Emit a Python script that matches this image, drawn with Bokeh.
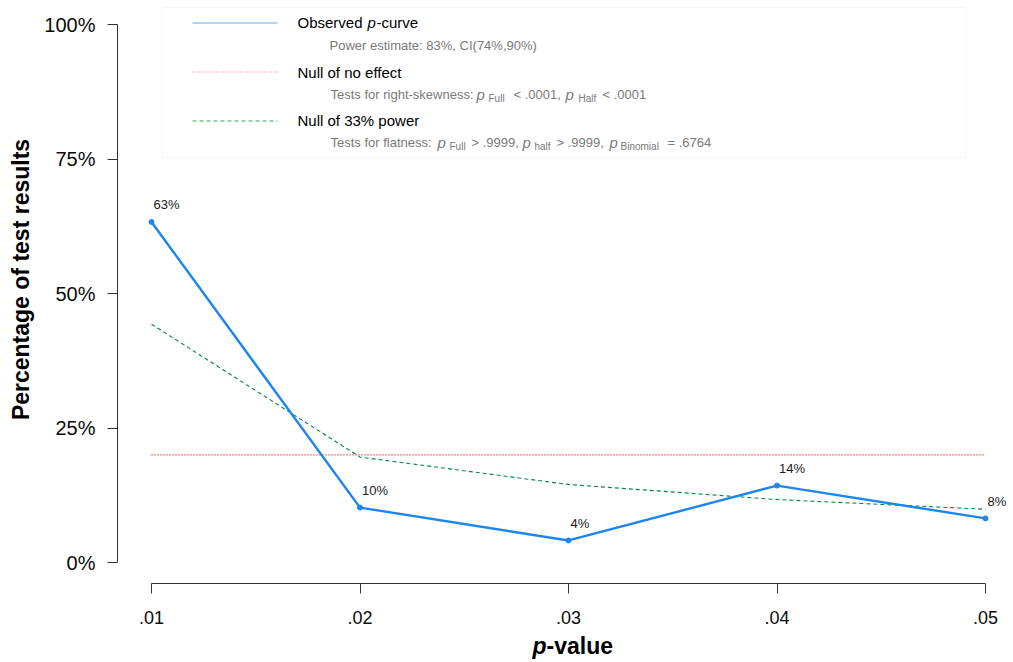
from bokeh.plotting import figure
from bokeh.models import (Range1d, FixedTicker, CustomJSTickFormatter, Label,
                          LabelSet, BoxAnnotation, ColumnDataSource)
from bokeh.core.properties import value
from bokeh.embed import file_html
from bokeh.resources import INLINE
import math

# ---------------- data ----------------
p_values = [0.01, 0.02, 0.03, 0.04, 0.05]
observed = [63.3, 10.2, 4.1, 14.3, 8.2]          # observed p-curve (%)
null_33_power = [44.3, 19.6, 14.5, 11.7, 9.9]    # null of 33% power (%)
null_no_effect = [20, 20, 20, 20, 20]            # null of no effect (%)
x_ticks = [0.01, 0.02, 0.03, 0.04, 0.05]
y_ticks = [0, 25, 50, 75, 100]
obs_labels = [f"{round(v)}%" for v in observed]

# ---------------- layout helpers (canvas pixels -> data) ----------------
PX_X0, PX_PER_X = 151.0, 20850.0   # canvas x of p=.01, pixels per unit p
PX_Y0, PX_PER_Y = 562.0, 5.38      # canvas y of 0%, pixels per percent


def dx(px):
    return 0.01 + (px - PX_X0) / PX_PER_X


def dy(py):
    return (PX_Y0 - py) / PX_PER_Y


FONT = "Liberation Sans"
BLUE = "#1C86EE"
RED = "#FF0000"
GREEN = "#008B45"
GREY = "#7a7a7a"
AXIS = "#333333"

W, H = 1012, 660
AXIS_X_PX, AXIS_Y_PX = 117, 583      # where the y axis / x axis lines sit

# The frame spans the whole canvas; the axes are pinned inside it.
p = figure(width=W, height=H, output_backend="svg", toolbar_location=None,
           x_range=Range1d(dx(0), dx(W)), y_range=Range1d(dy(H), dy(0)),
           min_border_left=0, min_border_right=0, min_border_top=0,
           min_border_bottom=0)
p.outline_line_color = None
p.grid.visible = False
p.background_fill_color = "white"

for ax in (p.xaxis[0], p.yaxis[0]):
    ax.axis_line_color = AXIS
    ax.major_tick_line_color = AXIS
    ax.minor_tick_line_color = None
    ax.major_tick_out = 10
    ax.major_tick_in = 0
    ax.major_label_text_font = FONT
    ax.major_label_text_color = "#0a0a0a"

p.xaxis.fixed_location = dy(AXIS_Y_PX)
p.yaxis.fixed_location = dx(AXIS_X_PX)
p.xaxis.bounds = (0.01, 0.05)
p.yaxis.bounds = (0, 100)
p.xaxis.ticker = FixedTicker(ticks=x_ticks)
p.yaxis.ticker = FixedTicker(ticks=y_ticks)
p.xaxis.formatter = CustomJSTickFormatter(code="return tick.toFixed(2).replace(/^0/, '')")
p.yaxis.formatter = CustomJSTickFormatter(code="return Math.round(tick) + '%'")
p.xaxis.major_label_text_font_size = "18px"
p.yaxis.major_label_text_font_size = "20px"
p.xaxis.major_label_standoff = 17
p.yaxis.major_label_standoff = 12

# ---------------- series ----------------
p.line(p_values, null_no_effect, line_color=RED, line_width=1.1, line_dash="1 2")
p.line(p_values, null_33_power, line_color=GREEN, line_width=1.1, line_dash="4 3")
p.line(p_values, observed, line_color=BLUE, line_width=2.4)
p.scatter(p_values, observed, size=5, color=BLUE)

src = ColumnDataSource(dict(x=p_values, y=observed, t=obs_labels))
p.add_layout(LabelSet(x="x", y="y", text="t", source=src, x_offset=2, y_offset=17,
                      text_font=value(FONT), text_font_size="13px", text_color="#1a1a1a",
                      text_align="left", text_baseline="middle"))

# ---------------- legend ----------------
p.add_layout(BoxAnnotation(left=dx(162), right=dx(965), top=dy(7), bottom=dy(157),
                           fill_alpha=0, line_color="#dedede", line_width=1))

p.line([dx(192), dx(277)], [dy(22.5), dy(22.5)], line_color=BLUE, line_width=1.2, line_alpha=0.7)
p.line([dx(192), dx(277)], [dy(71.5), dy(71.5)], line_color="#ff4d4d", line_width=1.2, line_dash="1 2", line_alpha=0.9)
p.line([dx(192), dx(277)], [dy(120.5), dy(120.5)], line_color=GREEN, line_width=1, line_dash="4 3", line_alpha=0.8)

# (text, canvas x, canvas y, size, style, color)
legend_texts = [
    ("Observed", 297, 22, "15px", "normal", "black"),
    ("p", 367, 22, "15px", "italic", "black"),
    ("-curve", 376, 22, "15px", "normal", "black"),
    ("Power estimate: 83%, CI(74%,90%)", 329, 45, "13px", "normal", GREY),
    ("Null of no effect", 297, 72, "15px", "normal", "black"),
    ("Tests for right-skewness:", 330, 94, "13px", "normal", GREY),
    ("p", 476, 94, "15px", "italic", GREY),
    ("Full", 488, 98, "10px", "normal", GREY),
    ("< .0001,", 513, 94, "13px", "normal", GREY),
    ("p", 565, 94, "15px", "italic", GREY),
    ("Half", 578, 98, "10px", "normal", GREY),
    ("< .0001", 602, 94, "13px", "normal", GREY),
    ("Null of 33% power", 297, 120, "15px", "normal", "black"),
    ("Tests for flatness:", 330, 142, "13px", "normal", GREY),
    ("p", 437, 142, "15px", "italic", GREY),
    ("Full", 449, 146, "10px", "normal", GREY),
    ("> .9999,", 471, 142, "13px", "normal", GREY),
    ("p", 522, 142, "15px", "italic", GREY),
    ("half", 534, 146, "10px", "normal", GREY),
    ("> .9999,", 556, 142, "13px", "normal", GREY),
    ("p", 609, 142, "15px", "italic", GREY),
    ("Binomial", 620, 146, "10px", "normal", GREY),
    ("= .6764", 667, 142, "13px", "normal", GREY),
]
for txt, xp, yp, size, style, col in legend_texts:
    p.add_layout(Label(x=dx(xp), y=dy(yp), text=txt, text_font=FONT, text_font_size=size,
                       text_font_style=style, text_color=col, text_align="left",
                       text_baseline="middle"))

# ---------------- axis titles ----------------
p.add_layout(Label(x=dx(532), y=dy(645), text="p",
                   text_font=FONT, text_font_size="23px",
                   text_font_style="bold italic", text_color="black",
                   text_align="left", text_baseline="middle"))
p.add_layout(Label(x=dx(546), y=dy(645), text="-value",
                   text_font=FONT, text_font_size="23px",
                   text_font_style="bold", text_color="black",
                   text_align="left", text_baseline="middle"))
p.add_layout(Label(x=dx(20), y=dy(279),
                   text="Percentage of test results", text_font=FONT,
                   text_font_size="23px", text_font_style="bold", text_color="black",
                   angle=math.pi / 2, text_align="center", text_baseline="middle"))

open("out.html", "w").write(file_html(p, INLINE))
